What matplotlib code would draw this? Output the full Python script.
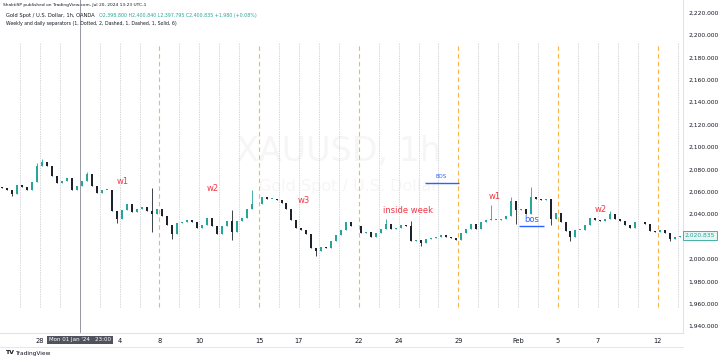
import numpy as np
import matplotlib
matplotlib.use("Agg")
import matplotlib.pyplot as plt

# XAUUSD 1h in ~6h steps (4 bars per trading day)
closes = [
    2063, 2062, 2058, 2066, 2064, 2062, 2069, 2083, 2087, 2083,
    2074, 2068, 2070, 2072, 2062, 2065, 2070, 2076, 2065, 2059,
    2062, 2062, 2043, 2036, 2044, 2049, 2042, 2045, 2046, 2043,
    2040, 2045, 2038, 2030, 2022, 2032, 2033, 2035, 2033, 2028,
    2030, 2037, 2029, 2022, 2029, 2034, 2024, 2034, 2037, 2045,
    2049, 2049, 2055, 2054, 2054, 2053, 2050, 2045, 2035, 2028,
    2026, 2022, 2010, 2007, 2011, 2010, 2016, 2021, 2026, 2033,
    2029, 2029, 2023, 2024, 2020, 2023, 2027, 2031, 2027, 2028,
    2030, 2029, 2016, 2017, 2014, 2018, 2019, 2020, 2021, 2020,
    2019, 2017, 2023, 2027, 2031, 2027, 2033, 2035, 2035, 2035,
    2036, 2038, 2052, 2044, 2045, 2040, 2055, 2054, 2053, 2054,
    2036, 2041, 2033, 2025, 2020, 2026, 2026, 2030, 2037, 2035,
    2034, 2036, 2040, 2036, 2034, 2030, 2028, 2033, 2033, 2031,
    2025, 2024, 2026, 2023, 2018, 2020, 2020.835,
]
first_open = 2064
# wick extremes that stick out of the bodies
wick_highs = {7: 2086, 8: 2089, 17: 2078, 30: 2063, 46: 2044, 50: 2062, 77: 2036,
              82: 2034, 98: 2048, 102: 2055, 106: 2064, 122: 2043}
wick_lows = {2: 2056, 23: 2032, 30: 2024, 34: 2018, 46: 2017, 63: 2003, 84: 2012,
             103: 2031, 110: 2030, 114: 2016, 134: 2016}

tick_pos = [2, 6, 8, 10, 13, 15, 18, 20, 23, 26, 28, 30, 33]
tick_lbl = ["28", "4", "8", "10", "15", "17", "22", "24", "29", "Feb", "5", "7", "12"]
# 2,020 is hidden behind the last-price tag
price_ticks = [1940, 1960, 1980, 2000, 2040, 2060, 2080, 2100,
               2120, 2140, 2160, 2180, 2200, 2220]
day_seps = list(range(1, 35))
week_seps = [8, 13, 18, 23, 28, 33]

notes = [("w1", 6.17, 2069.6), ("w2", 10.69, 2062.5), ("w3", 15.25, 2052.2),
         ("inside week", 20.47, 2042.9), ("w1", 24.84, 2055.4), ("w2", 30.16, 2044.6)]

up_col, dn_col = "#26a69a", "#1e222d"
red, blue = "#f23645", "#2962ff"

fig = plt.figure(figsize=(7.2, 3.61), dpi=100)
fig.patch.set_facecolor("white")
ax = fig.add_axes([0, 28 / 361, 683 / 720, 333 / 361])
ax.set_xlim(0, 683 / 19.93)
ax.set_ylim(1933.9, 2231.25)

# watermark
ax.text(17.0, 2096, "XAUUSD, 1h", ha="center", va="center", fontsize=24,
        color="#f6f6f7", zorder=0)
ax.text(17.5, 2065, "Gold Spot / U.S. Dollar", ha="center", va="center",
        fontsize=11.5, color="#f6f6f7", zorder=0)

# separators
for d in day_seps:
    if d in week_seps:
        ax.vlines(d, 1957, 2193, color="#f7b54a", lw=0.8, ls=(0, (4, 3)), zorder=1)
    elif d != 4:
        ax.vlines(d, 1957, 2193, color="#c3c6cc", lw=0.5, ls=(0, (2, 1.5)), zorder=1)
ax.axvline(4.0, color="#9598a1", lw=0.7, zorder=1)

# candles
closes = np.array(closes, dtype=float)
opens = np.concatenate([[first_open], closes[:-1]])
t = (np.arange(len(closes)) + 0.5) * 0.25
highs = np.maximum(opens, closes)
lows = np.minimum(opens, closes)
for k, v in wick_highs.items():
    highs[k] = v
for k, v in wick_lows.items():
    lows[k] = v
cols = np.where(closes >= opens, up_col, dn_col)
ax.vlines(t, lows, highs, colors=cols, lw=0.6, zorder=3)
ax.bar(t, np.maximum(np.abs(closes - opens), 0.4), bottom=np.minimum(opens, closes),
       width=0.1, color=cols, zorder=3)

# annotations
for s, x, y in notes:
    ax.text(x, y, s, color=red, fontsize=6, ha="center", va="center", zorder=4)
ax.hlines(2067.9, 21.32, 23.03, color=blue, lw=1.0, zorder=4)
ax.text(22.13, 2073.5, "BOS", color=blue, fontsize=4, ha="center", va="center")
ax.hlines(2029.5, 26.04, 27.3, color=blue, lw=1.0, zorder=4)
ax.text(26.69, 2035.5, "bos", color=blue, fontsize=6, ha="center", va="center")

# axes look
for sp in ax.spines.values():
    sp.set_visible(False)
ax.spines["bottom"].set_visible(True)
ax.spines["bottom"].set_color("#e0e3eb")
ax.spines["right"].set_visible(True)
ax.spines["right"].set_color("#e0e3eb")
ax.set_xticks(tick_pos)
ax.set_xticklabels(tick_lbl)
ax.yaxis.tick_right()
ax.set_yticks(price_ticks)
ax.set_yticklabels([f"{p:,.3f}" for p in price_ticks])
ax.tick_params(axis="x", length=0, pad=3.5, labelsize=4.8, labelcolor="#131722")
ax.tick_params(axis="y", length=0, pad=4, labelsize=4.3, labelcolor="#131722")

# last price label
ax.text(1.0 + 17 / 683, 2020.835, "2,020.835", transform=ax.get_yaxis_transform(),
        fontsize=4.3, color=up_col, ha="center", va="center",
        bbox=dict(boxstyle="square,pad=0.3", fc="#e8f5f3", ec=up_col, lw=0.6))

# crosshair time label
fig.text(80 / 720, 1 - 340 / 361, "Mon 01 Jan '24   23:00", fontsize=4.0, color="white",
         ha="center", va="center",
         bbox=dict(boxstyle="square,pad=0.35", fc="#50535e", ec="none"))
fig.add_artist(plt.Line2D([0, 683 / 720], [1 - 347 / 361] * 2, color="#e0e3eb", lw=0.6))

# header
fig.text(3 / 720, 1 - 5 / 361, "ShaktiSP published on TradingView.com, Jul 20, 2024 13:23 UTC-1",
         fontsize=3.2, color="#131722", va="center")
fig.text(6 / 720, 1 - 15 / 361, "Gold Spot / U.S. Dollar, 1h, OANDA", fontsize=3.7,
         color="#131722", va="center")
fig.text(99 / 720, 1 - 15 / 361,
         "O2,398.800 H2,400.840 L2,397.795 C2,400.835 +1.980 (+0.08%)",
         fontsize=3.4, color=up_col, va="center")
fig.text(6 / 720, 1 - 24 / 361,
         "Weekly and daily separators (1, Dotted, 2, Dashed, 1, Dashed, 1, Solid, 6)",
         fontsize=3.3, color="#131722", va="center")
fig.text(5 / 720, 1 - 353 / 361, "TV", fontsize=4.5, weight="bold", color="#131722", va="center")
fig.text(15 / 720, 1 - 353 / 361, "TradingView", fontsize=4.2, color="#131722", va="center")

fig.savefig("out.png", dpi=100, facecolor="white")
